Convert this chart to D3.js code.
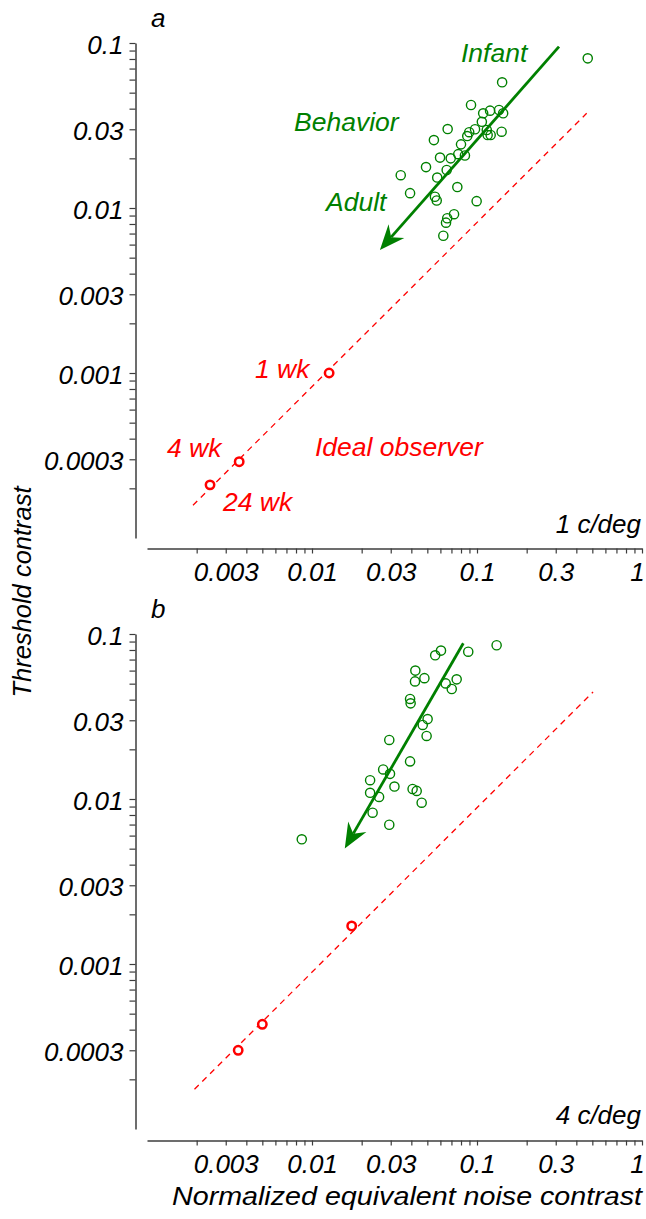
<!DOCTYPE html>
<html>
<head>
<meta charset="utf-8">
<script src="https://cdn.jsdelivr.net/npm/d3@7"></script>
<style>
  body { margin: 0; background: #fff; }
  text { font-family: "Liberation Sans", Arial, Helvetica, sans-serif; font-style: italic; }
</style>
</head>
<body>
<svg id="chart" width="646" height="1219"></svg>
<script>
// ---- data ----
const xTickLabels = [0.003, 0.01, 0.03, 0.1, 0.3, 1];
const yTickLabels = [0.0003, 0.001, 0.003, 0.01, 0.03, 0.1];

// panel a, 1 c/deg
const behaviorNoiseA = [0.469, 0.142, 0.092, 0.109, 0.120, 0.136, 0.144, 0.107, 0.0664, 0.0548,
  0.0973, 0.0897, 0.0873, 0.1146, 0.116, 0.121, 0.141, 0.080, 0.077, 0.0845,
  0.0597, 0.0693, 0.0491, 0.0655, 0.0574, 0.0345, 0.0393, 0.076, 0.0556, 0.057,
  0.0995, 0.0726, 0.066, 0.0649, 0.0625];
const behaviorThreshA = [0.0807, 0.0578, 0.0421, 0.0375, 0.0389, 0.0393, 0.0375, 0.0333, 0.0301, 0.0258,
  0.030, 0.0288, 0.0273, 0.0297, 0.0277, 0.0277, 0.029, 0.0243, 0.0212, 0.0208,
  0.0202, 0.020, 0.0177, 0.0170, 0.0153, 0.0158, 0.0123, 0.0134, 0.0117, 0.0111,
  0.011, 0.00917, 0.00867, 0.00815, 0.00679];
const idealAges = ["1 wk", "4 wk", "24 wk"];
const idealNoiseA = [0.0127, 0.00362, 0.00241];
const idealThreshA = [0.001, 0.00029, 0.00021];
const idealLineNoiseA = [0.0019, 0.462];
const idealLineThreshA = [0.000158, 0.0375];
const arrowNoiseA = [0.314, 0.0258];
const arrowThreshA = [0.095, 0.00557];

// panel b, 4 c/deg
const behaviorNoiseB = [0.1315, 0.0885, 0.0605, 0.0558, 0.0423, 0.0421, 0.048, 0.0646, 0.0753, 0.0703,
  0.0393, 0.0396, 0.0502, 0.0469, 0.0495, 0.0294, 0.0393, 0.027, 0.0297, 0.0225,
  0.0316, 0.0407, 0.0431, 0.0225, 0.0255, 0.0462, 0.0233, 0.0294, 0.00867];
const behaviorThreshB = [0.0855, 0.0781, 0.0793, 0.0743, 0.060, 0.0516, 0.054, 0.0502, 0.0531, 0.0464,
  0.0404, 0.038, 0.0305, 0.0281, 0.0241, 0.0228, 0.0169, 0.0151, 0.0142, 0.013,
  0.0119, 0.0115, 0.0112, 0.0109, 0.0103, 0.0095, 0.00826, 0.00698, 0.0057];
const idealNoiseB = [0.0174, 0.0050, 0.00357];
const idealThreshB = [0.0017, 0.000431, 0.0003];
const idealLineNoiseB = [0.00194, 0.505];
const idealLineThreshB = [0.000174, 0.0445];
const arrowNoiseB = [0.0826, 0.0158];
const arrowThreshB = [0.0878, 0.00502];

// ---- layout ----
const GREEN = "#008000", RED = "#ff0000", AXIS = "#3c3c3c";
const svg = d3.select("#chart");
const x = d3.scaleLog().domain([0.001, 1]).range([147, 642]);
const sameVal = (a, b) => Math.abs(Math.log10(a) - Math.log10(b)) < 1e-6;

const panels = [
  { letter: "a", freq: "1 c/deg", top: 43, bottom: 538, xAxisY: 548.5,
    bNoise: behaviorNoiseA, bThresh: behaviorThreshA,
    iNoise: idealNoiseA, iThresh: idealThreshA,
    lNoise: idealLineNoiseA, lThresh: idealLineThreshA,
    aNoise: arrowNoiseA, aThresh: arrowThreshA, annotate: true },
  { letter: "b", freq: "4 c/deg", top: 634, bottom: 1129, xAxisY: 1140.5,
    bNoise: behaviorNoiseB, bThresh: behaviorThreshB,
    iNoise: idealNoiseB, iThresh: idealThreshB,
    lNoise: idealLineNoiseB, lThresh: idealLineThreshB,
    aNoise: arrowNoiseB, aThresh: arrowThreshB, annotate: false }
];

panels.forEach(p => {
  const y = d3.scaleLog().domain([0.0001, 0.1]).range([p.bottom, p.top]);
  const g = svg.append("g");

  // y axis
  const yTicks = y.ticks().filter(t => !sameVal(t, 0.0001));
  const yAx = g.append("g")
    .attr("transform", "translate(135.5,0)")
    .call(d3.axisLeft(y).tickValues(yTicks).tickSize(6).tickSizeOuter(0).tickPadding(6)
      .tickFormat(d => { const l = yTickLabels.find(v => sameVal(v, d)); return l ? String(l) : ""; }));
  yAx.select(".domain").attr("stroke", AXIS).attr("stroke-width", 1.5);
  yAx.selectAll(".tick line").attr("stroke", AXIS).attr("stroke-width", 1.2);
  yAx.selectAll(".tick text").attr("font-size", 26).attr("fill", "#000").attr("dy", 10)
    .attr("font-family", null);

  // x axis
  const xTicks = x.ticks().filter(t => !sameVal(t, 0.001));
  const xAx = g.append("g")
    .attr("transform", `translate(0,${p.xAxisY})`)
    .call(d3.axisBottom(x).tickValues(xTicks).tickSize(5).tickSizeOuter(0).tickPadding(9.5)
      .tickFormat(d => { const l = xTickLabels.find(v => sameVal(v, d)); return l ? String(l) : ""; }));
  xAx.select(".domain").attr("stroke", AXIS).attr("stroke-width", 1.5);
  xAx.selectAll(".tick line").attr("stroke", AXIS).attr("stroke-width", 1.2);
  xAx.selectAll(".tick text").attr("font-size", 26).attr("fill", "#000")
    .attr("font-family", null)
    .attr("dx", d => sameVal(d, 1) ? -5 : 0);

  // panel letter and frequency
  g.append("text").attr("x", 151).attr("y", p.top - 16).attr("font-size", 26).text(p.letter);
  g.append("text").attr("x", 641).attr("y", p.bottom - 5).attr("text-anchor", "end")
    .attr("font-size", 26).text(p.freq);

  // ideal observer line
  const line = d3.line().x(d => x(d[0])).y(d => y(d[1]));
  g.append("path")
    .attr("d", line(d3.zip(p.lNoise, p.lThresh)))
    .attr("fill", "none").attr("stroke", RED).attr("stroke-width", 1.3)
    .attr("stroke-dasharray", "6,5");

  // behavior points
  g.selectAll("circle.beh").data(d3.zip(p.bNoise, p.bThresh)).join("circle")
    .attr("class", "beh")
    .attr("cx", d => x(d[0])).attr("cy", d => y(d[1])).attr("r", 4.6)
    .attr("fill", "none").attr("stroke", GREEN).attr("stroke-width", 1.4);

  // ideal observer points
  g.selectAll("circle.ideal").data(d3.zip(p.iNoise, p.iThresh)).join("circle")
    .attr("class", "ideal")
    .attr("cx", d => x(d[0])).attr("cy", d => y(d[1])).attr("r", 4.2)
    .attr("fill", "#fff").attr("stroke", RED).attr("stroke-width", 2.5);

  // infant -> adult arrow
  const x1 = x(p.aNoise[0]), y1 = y(p.aThresh[0]);
  const x2 = x(p.aNoise[1]), y2 = y(p.aThresh[1]);
  const len = Math.hypot(x2 - x1, y2 - y1);
  const ux = (x2 - x1) / len, uy = (y2 - y1) / len;
  const L = 25, W = 10.5, notch = 17;
  g.append("line")
    .attr("x1", x1).attr("y1", y1)
    .attr("x2", x2 - ux * notch).attr("y2", y2 - uy * notch)
    .attr("stroke", GREEN).attr("stroke-width", 2.8);
  const head = [
    [x2, y2],
    [x2 - ux * L - uy * W, y2 - uy * L + ux * W],
    [x2 - ux * notch, y2 - uy * notch],
    [x2 - ux * L + uy * W, y2 - uy * L - ux * W]
  ];
  g.append("path").attr("d", "M" + head.join("L") + "Z").attr("fill", GREEN);

  if (p.annotate) {
    const notes = [
      { t: "Infant", x: 461, y: 62, c: GREEN },
      { t: "Behavior", x: 294, y: 131, c: GREEN },
      { t: "Adult", x: 326, y: 211, c: GREEN },
      { t: idealAges[0], x: 255, y: 378, c: RED },
      { t: idealAges[1], x: 167, y: 457, c: RED },
      { t: "Ideal observer", x: 315, y: 456, c: RED },
      { t: idealAges[2], x: 223, y: 511, c: RED }
    ];
    g.selectAll("text.note").data(notes).join("text")
      .attr("class", "note")
      .attr("x", d => d.x).attr("y", d => d.y).attr("fill", d => d.c)
      .attr("font-size", 26.5).text(d => d.t);
  }
});

// shared axis titles
svg.append("text")
  .attr("transform", "translate(31,592) rotate(-90)")
  .attr("text-anchor", "middle").attr("font-size", 25.5)
  .text("Threshold contrast");
svg.append("text")
  .attr("x", 407).attr("y", 1205)
  .attr("text-anchor", "middle").attr("font-size", 25)
  .attr("textLength", 470).attr("lengthAdjust", "spacingAndGlyphs")
  .text("Normalized equivalent noise contrast");
</script>
</body>
</html>
